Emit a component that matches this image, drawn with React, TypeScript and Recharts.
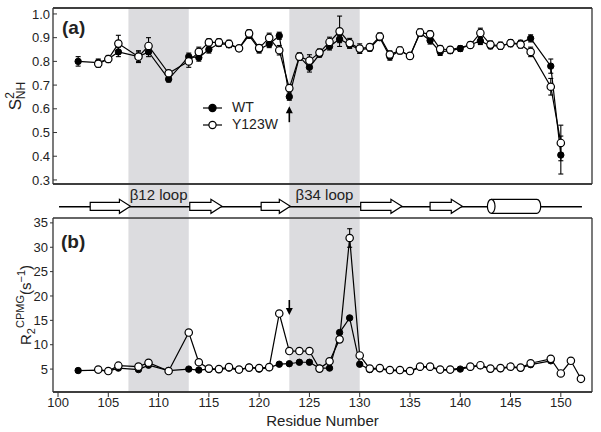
import React from "react";
import {
  ComposedChart,
  Line,
  XAxis,
  YAxis,
  ErrorBar,
  ReferenceArea,
  ReferenceDot,
  Legend,
} from "recharts";

// (a) backbone order parameters
const residuesA = [
  102, 104, 105, 106, 108, 109, 111, 113, 114, 115, 116, 117, 118, 119, 120,
  121, 122, 123, 124, 125, 126, 127, 128, 129, 130, 131, 132, 133, 134, 135,
  136, 137, 138, 139, 140, 141, 142, 143, 144, 145, 146, 147, 149, 150,
];
const wtS2 = [
  0.8, 0.795, 0.81, 0.84, 0.82, 0.84, 0.725, 0.82, 0.816, 0.85, 0.875, 0.87,
  0.855, 0.91, 0.85, 0.873, 0.908, 0.651, 0.82, 0.775, 0.83, 0.863, 0.894,
  0.87, 0.85, 0.855, 0.9, 0.82, 0.845, 0.823, 0.92, 0.888, 0.84, 0.845, 0.854,
  0.87, 0.886, 0.865, 0.865, 0.875, 0.877, 0.897, 0.78, 0.405,
];
const wtS2Err = [
  0.02, 0.015, 0.015, 0.02, 0.02, 0.02, 0.012, 0.015, 0.015, 0.015, 0.012,
  0.012, 0.012, 0.012, 0.015, 0.015, 0.015, 0.015, 0.015, 0.02, 0.012, 0.015,
  0.015, 0.015, 0.015, 0.012, 0.012, 0.015, 0.012, 0.012, 0.015, 0.015, 0.015,
  0.012, 0.012, 0.012, 0.015, 0.012, 0.012, 0.012, 0.012, 0.015, 0.03, 0.08,
];
const mutS2 = [
  null, 0.79, 0.81, 0.875, 0.82, 0.865, 0.75, 0.8, 0.84, 0.88, 0.88, 0.874,
  0.855, 0.918, 0.856, 0.899, 0.847, 0.687, 0.82, 0.803, 0.837, 0.882, 0.927,
  0.877, 0.854, 0.86, 0.905, 0.829, 0.846, 0.823, 0.922, 0.914, 0.852, 0.849,
  null, 0.869, 0.92, 0.871, 0.866, 0.877, 0.871, 0.84, 0.693, 0.456,
];
const mutS2Err = [
  null, 0.015, 0.012, 0.035, 0.025, 0.035, 0.012, 0.025, 0.02, 0.015, 0.015,
  0.015, 0.012, 0.015, 0.015, 0.02, 0.02, 0.015, 0.015, 0.025, 0.015, 0.02,
  0.064, 0.02, 0.02, 0.012, 0.015, 0.015, 0.015, 0.012, 0.015, 0.015, 0.015,
  0.012, null, 0.012, 0.02, 0.015, 0.015, 0.015, 0.015, 0.02, 0.035, 0.075,
];

// (b) R2 CPMG rates, s^-1
const residuesB = [
  102, 104, 105, 106, 108, 109, 111, 113, 114, 115, 116, 117, 118, 119, 120,
  121, 122, 123, 124, 125, 126, 127, 128, 129, 130, 131, 132, 133, 134, 135,
  136, 137, 138, 139, 140, 141, 142, 143, 144, 145, 146, 147, 149, 150, 151,
  152,
];
const wtR2 = [
  4.7, 4.8, 4.6, 5.2, 4.9, 5.8, 4.7, 5.0, 4.8, 5.0, 4.9, 5.2, 4.8, 5.4, 5.0,
  5.3, 6.0, 6.1, 6.4, 6.4, 5.2, 5.2, 12.5, 15.5, 6.0, 4.9, 5.1, 4.7, 4.7, 4.5,
  5.4, 5.4, 4.8, 4.8, 5.0, 5.4, 5.7, 5.0, 5.1, 5.4, 5.2, 5.9, 6.7, null, null,
  null,
];
const mutR2 = [
  null, 4.9, 4.6, 5.7, 5.5, 6.3, 4.6, 12.5, 6.4, 5.1, 5.0, 5.4, 4.9, 5.3, 5.2,
  5.4, 16.4, 8.7, 8.7, 8.7, 5.1, 6.6, 11.1, 31.9, 7.8, 5.1, 5.2, 4.8, 4.8, 4.6,
  5.5, 5.5, 4.9, 4.9, null, 5.5, 5.8, 5.1, 5.2, 5.5, 5.3, 6.2, 7.1, 4.1, 6.7,
  3.0,
];
const mutR2ErrAt = [129];
const mutR2ErrVal = [1.9];

// secondary structure + loops
const loopNames = ["\u03b212 loop", "\u03b234 loop"];
const loopFrom = [107, 123];
const loopTo = [113, 130];
const strandFrom = [103.2, 113.1, 120.2, 130.1, 137.0];
const strandTo = [107.2, 116.3, 123.1, 134.2, 140.2];
const helixFrom = [142.7];
const helixTo = [148.0];
const chainFrom = 100.1;
const chainTo = 152.1;

const majorTicks = [100, 105, 110, 115, 120, 125, 130, 135, 140, 145, 150];
const minorTicks = Array.from({ length: 53 }, (_, i) => 100 + i);
const s2Ticks = [0.3, 0.4, 0.5, 0.6, 0.7, 0.8, 0.9, 1.0];
const r2Ticks = [5, 10, 15, 20, 25, 30, 35];

const X_DOMAIN: [number, number] = [99.5, 153.1];
const FONT = '"Liberation Sans", Arial, Helvetica, sans-serif';
const INK = "#222";
const SHADE = "#dcdcdf";
const AXIS = { stroke: "#333", strokeWidth: 1.3 };
const TICK = { stroke: "#333", strokeWidth: 1 };
const THIN = 0.01; // axes that only add a frame edge / extra ticks

const dataA = residuesA.map((r, i) => ({
  r,
  wt: wtS2[i],
  wtErr: wtS2Err[i],
  mut: mutS2[i],
  mutErr: mutS2Err[i],
}));

const dataB = residuesB.map((r, i) => {
  const k = mutR2ErrAt.indexOf(r);
  return { r, wt: wtR2[i], mut: mutR2[i], mutErr: k >= 0 ? mutR2ErrVal[k] : null };
});

const loops = loopNames.map((name, i) => ({ name, from: loopFrom[i], to: loopTo[i] }));

function LegendBox() {
  const rows = [
    { name: "WT", fill: "#000" },
    { name: "Y123W", fill: "#fff" },
  ];
  return (
    <div style={{ fontSize: 14, color: INK, lineHeight: "17px" }}>
      {rows.map((row) => (
        <div key={row.name} style={{ display: "flex", alignItems: "center", height: 17 }}>
          <svg width={19} height={12} style={{ marginRight: 10 }}>
            <line x1={0} y1={6} x2={19} y2={6} stroke="#000" strokeWidth={1.2} />
            <circle cx={9.5} cy={6} r={3.6} fill={row.fill} stroke="#000" strokeWidth={1.2} />
          </svg>
          <span>{row.name}</span>
        </div>
      ))}
    </div>
  );
}

function S2Label(props: any) {
  const vb = props.viewBox || { x: 0, y: 8, width: 53, height: 176 };
  const cx = vb.x + 21;
  const cy = vb.y + vb.height / 2;
  return (
    <text x={cx} y={cy} transform={`rotate(-90 ${cx} ${cy})`} textAnchor="middle" fill={INK} fontSize={17}>
      S
      <tspan fontSize={12} dy={-7}>2</tspan>
      <tspan fontSize={12} dx={-7} dy={11}>NH</tspan>
    </text>
  );
}

function R2Label(props: any) {
  const vb = props.viewBox || { x: 0, y: 218, width: 53, height: 174 };
  const cx = vb.x + 31;
  const cy = vb.y + vb.height / 2;
  return (
    <text x={cx} y={cy} transform={`rotate(-90 ${cx} ${cy})`} textAnchor="middle" fill={INK} fontSize={15}>
      R
      <tspan fontSize={11} dy={4}>2</tspan>
      <tspan fontSize={11} dy={-11}>CPMG</tspan>
      <tspan fontSize={15} dy={7}>(s</tspan>
      <tspan fontSize={11} dy={-6}>{"\u22121"}</tspan>
      <tspan fontSize={15} dy={6}>)</tspan>
    </text>
  );
}

function UpArrow(props: any) {
  const { cx, cy } = props;
  return (
    <g>
      <line x1={cx} y1={cy + 4} x2={cx} y2={cy + 16} stroke="#000" strokeWidth={1.6} />
      <path d={`M${cx},${cy} L${cx - 3.5},${cy + 7} L${cx + 3.5},${cy + 7} Z`} fill="#000" />
    </g>
  );
}

function DownArrow(props: any) {
  const { cx, cy } = props;
  return (
    <g>
      <line x1={cx} y1={cy - 15} x2={cx} y2={cy - 4} stroke="#000" strokeWidth={1.6} />
      <path d={`M${cx},${cy} L${cx - 3.5},${cy - 7} L${cx + 3.5},${cy - 7} Z`} fill="#000" />
    </g>
  );
}

function StrandShape(props: any) {
  const { x, y, width, height } = props;
  const mid = y + height / 2;
  const head = Math.min(11, width * 0.5);
  const bx = x + width - head;
  const d = `M${x},${mid - 4} L${bx},${mid - 4} L${bx},${y} L${x + width},${mid} L${bx},${y + height} L${bx},${mid + 4} L${x},${mid + 4} Z`;
  return <path d={d} fill="#fff" stroke="#000" strokeWidth={1.2} />;
}

function HelixShape(props: any) {
  const { x, y, width, height } = props;
  const rx = 3.8;
  const ry = height / 2;
  const d = `M${x + rx},${y} L${x + width - rx},${y} A${rx},${ry} 0 0 1 ${x + width - rx},${y + height} L${x + rx},${y + height}`;
  return (
    <g>
      <path d={d} fill="#fff" stroke="#000" strokeWidth={1.2} />
      <ellipse cx={x + rx} cy={y + ry} rx={rx} ry={ry} fill="#fff" stroke="#000" strokeWidth={1.2} />
    </g>
  );
}

function PanelA() {
  return (
    <ComposedChart width={601} height={195} data={dataA} margin={{ top: 8, right: 0, bottom: 11, left: 0 }}>
      {loops.map((l) => (
        <ReferenceArea key={l.name} x1={l.from} x2={l.to} fill={SHADE} fillOpacity={1} stroke="none" />
      ))}
      <XAxis type="number" dataKey="r" domain={X_DOMAIN} allowDataOverflow ticks={majorTicks} interval={0}
        tick={false} tickSize={-4.5} height={THIN} axisLine={AXIS} tickLine={TICK} />
      <XAxis xAxisId="minor" type="number" dataKey="r" domain={X_DOMAIN} allowDataOverflow ticks={minorTicks}
        interval={0} tick={false} tickSize={-2.5} height={THIN} axisLine={AXIS} tickLine={TICK} />
      <XAxis xAxisId="top" orientation="top" type="number" dataKey="r" domain={X_DOMAIN} allowDataOverflow
        ticks={majorTicks} interval={0} tick={false} tickSize={-4.5} height={THIN} axisLine={AXIS} tickLine={TICK} />
      <XAxis xAxisId="topMinor" orientation="top" type="number" dataKey="r" domain={X_DOMAIN} allowDataOverflow
        ticks={minorTicks} interval={0} tick={false} tickSize={-2.5} height={THIN} axisLine={AXIS} tickLine={TICK} />
      <YAxis type="number" domain={[0.283, 1.025]} allowDataOverflow ticks={s2Ticks} interval={0} width={53}
        tickSize={-4} tickMargin={7} tickFormatter={(v: number) => v.toFixed(1)}
        tick={{ fontSize: 13, fill: INK }} axisLine={AXIS} tickLine={TICK} label={<S2Label />} />
      <YAxis yAxisId="right" orientation="right" type="number" domain={[0.283, 1.025]} allowDataOverflow
        ticks={s2Ticks} interval={0} width={9} tick={false} tickSize={-4} axisLine={AXIS} tickLine={TICK} />
      <Line dataKey="wt" stroke="#000" strokeWidth={1.2} activeDot={false} isAnimationActive={false}
        dot={{ r: 3.2, fill: "#000", stroke: "#000", strokeWidth: 1 }}>
        <ErrorBar dataKey="wtErr" width={2.5} stroke="#000" strokeWidth={1.1} />
      </Line>
      <Line dataKey="mut" stroke="#000" strokeWidth={1.2} activeDot={false} isAnimationActive={false} connectNulls
        dot={{ r: 3.7, fill: "#fff", stroke: "#000", strokeWidth: 1.2 }}>
        <ErrorBar dataKey="mutErr" width={2.5} stroke="#000" strokeWidth={1.1} />
      </Line>
      <ReferenceDot x={123} y={0.611} r={0} shape={<UpArrow />} />
      <Legend layout="vertical" align="center" verticalAlign="middle" content={<LegendBox />}
        wrapperStyle={{ left: 203, top: 99, width: 100 }} />
    </ComposedChart>
  );
}

function Strip() {
  return (
    <ComposedChart width={601} height={32} data={dataB} margin={{ top: 0, right: 9, bottom: 0, left: 53 }}>
      <XAxis hide type="number" dataKey="r" domain={X_DOMAIN} allowDataOverflow />
      <YAxis hide type="number" domain={[0, 32]} reversed allowDataOverflow />
      {loops.map((l) => (
        <ReferenceArea key={l.name} x1={l.from} x2={l.to} fill={SHADE} fillOpacity={1} stroke="none"
          label={{ value: l.name, position: "insideTop", offset: 4, fontSize: 15, fill: INK }} />
      ))}
      <ReferenceArea x1={chainFrom} x2={chainTo} y1={21.1} y2={22.4} fill="#000" fillOpacity={1} stroke="none" />
      {strandFrom.map((f, i) => (
        <ReferenceArea key={"s" + i} x1={f} x2={strandTo[i]} y1={14.3} y2={28.3} shape={<StrandShape />} />
      ))}
      {helixFrom.map((f, i) => (
        <ReferenceArea key={"h" + i} x1={f} x2={helixTo[i]} y1={14.3} y2={28.3} shape={<HelixShape />} />
      ))}
    </ComposedChart>
  );
}

function PanelB() {
  // axis ids: 0 (minor ticks) sits on the frame, 1 (labelled) stacks right after it
  return (
    <ComposedChart width={601} height={222} data={dataB} margin={{ top: 8, right: 0, bottom: 0, left: 0 }}>
      {loops.map((l) => (
        <ReferenceArea key={l.name} x1={l.from} x2={l.to} fill={SHADE} fillOpacity={1} stroke="none" />
      ))}
      <XAxis type="number" dataKey="r" domain={X_DOMAIN} allowDataOverflow ticks={minorTicks}
        interval={0} tick={false} tickSize={3} height={THIN} axisLine={AXIS} tickLine={TICK} />
      <XAxis xAxisId={1} type="number" dataKey="r" domain={X_DOMAIN} allowDataOverflow ticks={majorTicks} interval={0}
        tickSize={5} tickMargin={1} height={40} tick={{ fontSize: 13, fill: INK }} axisLine={AXIS} tickLine={TICK}
        label={{ value: "Residue Number", position: "insideBottom", offset: 6, fontSize: 15, fill: INK }} />
      <XAxis xAxisId="top" orientation="top" type="number" dataKey="r" domain={X_DOMAIN} allowDataOverflow
        tick={false} tickLine={false} height={THIN} axisLine={AXIS} />
      <YAxis type="number" domain={[0.3, 36]} allowDataOverflow ticks={r2Ticks} interval={0} width={53}
        tickSize={3} tickMargin={2} tick={{ fontSize: 13, fill: INK }} axisLine={AXIS} tickLine={TICK}
        label={<R2Label />} />
      <YAxis yAxisId="right" orientation="right" type="number" domain={[0.3, 36]} allowDataOverflow
        ticks={r2Ticks} interval={0} width={9} tick={false} tickSize={-4} axisLine={AXIS} tickLine={TICK} />
      <Line dataKey="wt" stroke="#000" strokeWidth={1.2} activeDot={false} isAnimationActive={false}
        dot={{ r: 3.2, fill: "#000", stroke: "#000", strokeWidth: 1 }} />
      <Line dataKey="mut" stroke="#000" strokeWidth={1.2} activeDot={false} isAnimationActive={false} connectNulls
        dot={{ r: 3.7, fill: "#fff", stroke: "#000", strokeWidth: 1.2 }}>
        <ErrorBar dataKey="mutErr" width={2.5} stroke="#000" strokeWidth={1.1} />
      </Line>
      <ReferenceDot x={123} y={16.1} r={0} shape={<DownArrow />} />
    </ComposedChart>
  );
}

export default function App() {
  return (
    <div style={{ position: "absolute", left: 0, top: 0, width: 601, height: 432, background: "#fff", fontFamily: FONT }}>
      <div style={{ position: "absolute", left: 0, top: 0 }}>
        <PanelA />
      </div>
      <div style={{ position: "absolute", left: 0, top: 185 }}>
        <Strip />
      </div>
      <div style={{ position: "absolute", left: 0, top: 210 }}>
        <PanelB />
      </div>
      <div style={{ position: "absolute", left: 62, top: 17, fontSize: 19, fontWeight: "bold", lineHeight: "22px", color: INK }}>
        (a)
      </div>
      <div style={{ position: "absolute", left: 61, top: 231, fontSize: 19, fontWeight: "bold", lineHeight: "22px", color: INK }}>
        (b)
      </div>
    </div>
  );
}
